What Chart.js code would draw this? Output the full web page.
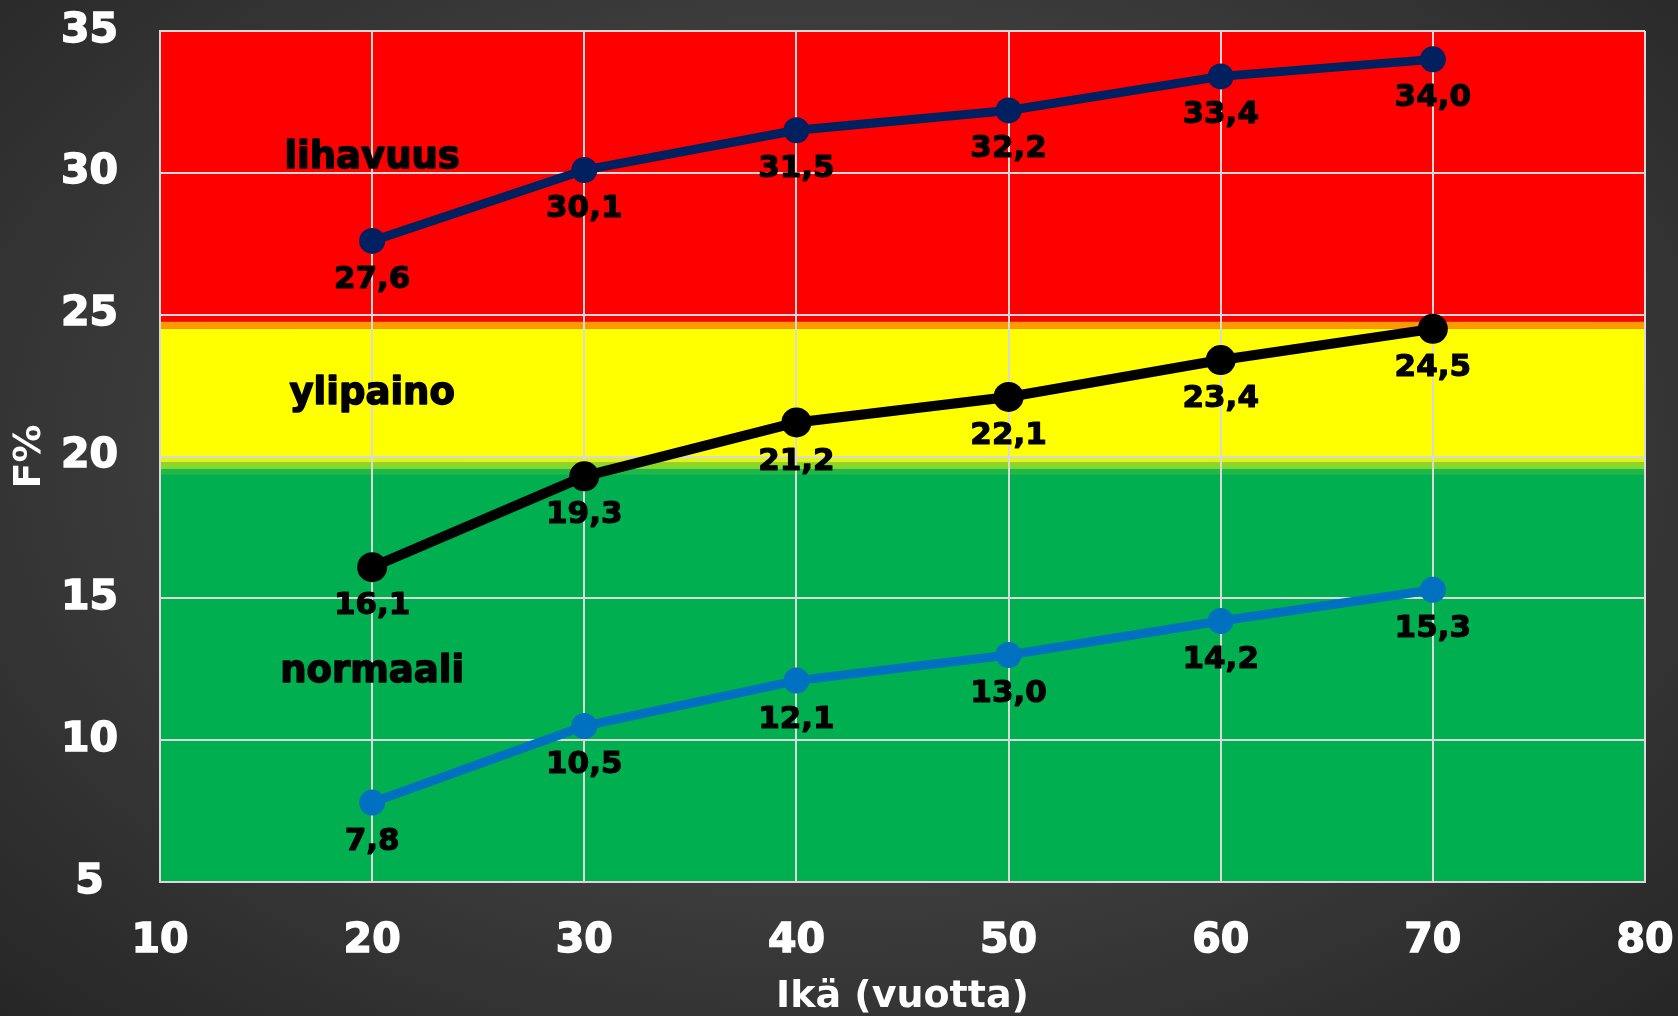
<!DOCTYPE html>
<html>
<head>
<meta charset="UTF-8">
<title>F% ikäryhmittäin</title>
<script src="https://cdn.jsdelivr.net/npm/chart.js"></script>
<style>
html, body { margin: 0; padding: 0; }
body {
	width: 1678px; height: 1016px; overflow: hidden;
	background: radial-gradient(ellipse at 50% 45%, #4e4e4e 0%, #3c3c3c 55%, #262626 100%);
}
#wrap { position: relative; width: 1678px; height: 1016px; }
</style>
<script>
// ikä (vuotta)
const ages = [20, 30, 40, 50, 60, 70];
// F% rajat
const obeseLine = [27.6, 30.1, 31.5, 32.2, 33.4, 34.0];   // tummansininen
const overLine = [16.1, 19.3, 21.2, 22.1, 23.4, 24.5];    // musta
const normalLine = [7.8, 10.5, 12.1, 13.0, 14.2, 15.3];   // sininen

const xTicks = [10, 20, 30, 40, 50, 60, 70, 80];
const yTicks = [5, 10, 15, 20, 25, 30, 35];

// taustavyöhykkeet: ylä, ala, väri
const zoneTop = [35, 24.75, 24.5, 20, 19.78, 19.56, 19.35];
const zoneBottom = [24.75, 24.5, 20, 19.78, 19.56, 19.35, 5];
const zoneColors = ['#ff0000', '#ff9900', '#ffff00', '#e2f21e', '#84d92a', '#1eb84b', '#00b050'];

// vyöhykkeiden nimet (x, y datayksiköissä)
const zoneNames = ['lihavuus', 'ylipaino', 'normaali'];
const zoneNameX = [20, 20, 20];
const zoneNameY = [30.5, 22.2, 12.4];
</script>
</head>
<body>
<div id="wrap"><canvas id="myChart" width="1678" height="1016"></canvas></div>
<script>
const FONT = "'DejaVu Sans', Verdana, sans-serif";

function fmt(v) {
	return v.toFixed(1).replace('.', ',');
}

function boldText(ctx, txt, x, y, color, sw) {
	ctx.fillStyle = color;
	ctx.strokeStyle = color;
	ctx.lineWidth = sw;
	ctx.lineJoin = 'round';
	ctx.strokeText(txt, x, y);
	ctx.fillText(txt, x, y);
}

const zonesPlugin = {
	id: 'zones',
	beforeDraw(chart) {
		const ctx = chart.ctx;
		const x = chart.scales.x, y = chart.scales.y;
		const left = x.getPixelForValue(10), right = x.getPixelForValue(80);
		ctx.save();
		for (let i = 0; i < zoneColors.length; i++) {
			const t = y.getPixelForValue(zoneTop[i]);
			const b = y.getPixelForValue(zoneBottom[i]);
			ctx.fillStyle = zoneColors[i];
			ctx.fillRect(left, t, right - left, b - t);
		}
		ctx.restore();
	},
	beforeDatasetsDraw(chart) {
		const ctx = chart.ctx;
		const x = chart.scales.x, y = chart.scales.y;
		ctx.save();
		ctx.font = 'bold 37px ' + FONT;
		ctx.textAlign = 'center';
		ctx.textBaseline = 'middle';
		for (let i = 0; i < zoneNames.length; i++) {
			boldText(ctx, zoneNames[i], x.getPixelForValue(zoneNameX[i]), y.getPixelForValue(zoneNameY[i]), '#000', 1.5);
		}
		ctx.restore();
	},
	afterDatasetsDraw(chart) {
		const ctx = chart.ctx;
		ctx.save();
		ctx.font = 'bold 31px ' + FONT;
		ctx.textAlign = 'center';
		ctx.textBaseline = 'middle';
		chart.data.datasets.forEach(function(ds, di) {
			const meta = chart.getDatasetMeta(di);
			meta.data.forEach(function(pt, i) {
				boldText(ctx, fmt(ds.data[i].y), pt.x, pt.y + 39, '#000', 1.2);
			});
		});
		ctx.restore();
	}
};

function pts(arr) {
	return arr.map(function(v, i) { return {x: ages[i], y: v}; });
}

function lineSet(label, arr, color, w, r) {
	return {
		label: label,
		data: pts(arr),
		borderColor: color,
		backgroundColor: color,
		pointBackgroundColor: color,
		pointBorderColor: color,
		borderWidth: w,
		pointRadius: r,
		pointBorderWidth: 0,
		tension: 0,
		fill: false
	};
}

const ctx = document.getElementById('myChart').getContext('2d');
const myChart = new Chart(ctx, {
	type: 'line',
	data: {
		datasets: [
			lineSet('lihavuus', obeseLine, '#002060', 9, 13),
			lineSet('ylipaino', overLine, '#000000', 10, 15),
			lineSet('normaali', normalLine, '#0070c0', 9, 13)
		]
	},
	options: {
		responsive: false,
		animation: false,
		layout: { padding: { top: 31, right: 33, left: 0, bottom: 0 } },
		plugins: {
			legend: { display: false },
			tooltip: { enabled: false }
		},
		scales: {
			x: {
				type: 'linear',
				min: 10, max: 80,
				afterBuildTicks: function(s) { s.ticks = xTicks.map(function(v) { return {value: v}; }); },
				afterFit: function(s) {
					s.height = 134;
					s.paddingLeft = 0;
					s.paddingRight = 0;
				},
				grid: { color: '#d9d9d9', lineWidth: 2, drawTicks: false },
				border: { color: '#d9d9d9', width: 2 },
				ticks: {
					color: '#ffffff',
					textStrokeColor: '#ffffff',
					textStrokeWidth: 1.5,
					font: { family: FONT, size: 41, weight: 'bold' },
					padding: 35,
					maxRotation: 0
				},
				title: {
					display: true,
					text: 'Ikä (vuotta)',
					color: '#ffffff',
					font: { family: FONT, size: 38, weight: 'bold' },
					padding: { top: 0, bottom: -4 }
				}
			},
			y: {
				min: 5, max: 35,
				afterBuildTicks: function(s) { s.ticks = yTicks.map(function(v) { return {value: v}; }); },
				afterFit: function(s) {
					s.width = 160;
					s.paddingTop = 0;
					s.paddingBottom = 0;
				},
				grid: { color: '#d9d9d9', lineWidth: 2, drawTicks: false },
				border: { color: '#d9d9d9', width: 2 },
				ticks: {
					color: '#ffffff',
					textStrokeColor: '#ffffff',
					textStrokeWidth: 1.5,
					font: { family: FONT, size: 41, weight: 'bold' },
					padding: 42,
					crossAlign: 'center'
				},
				title: {
					display: true,
					text: 'F%',
					color: '#ffffff',
					font: { family: FONT, size: 38, weight: 'bold' },
					padding: { top: 7, bottom: 0 }
				}
			}
		}
	},
	plugins: [zonesPlugin]
});
</script>
</body>
</html>
